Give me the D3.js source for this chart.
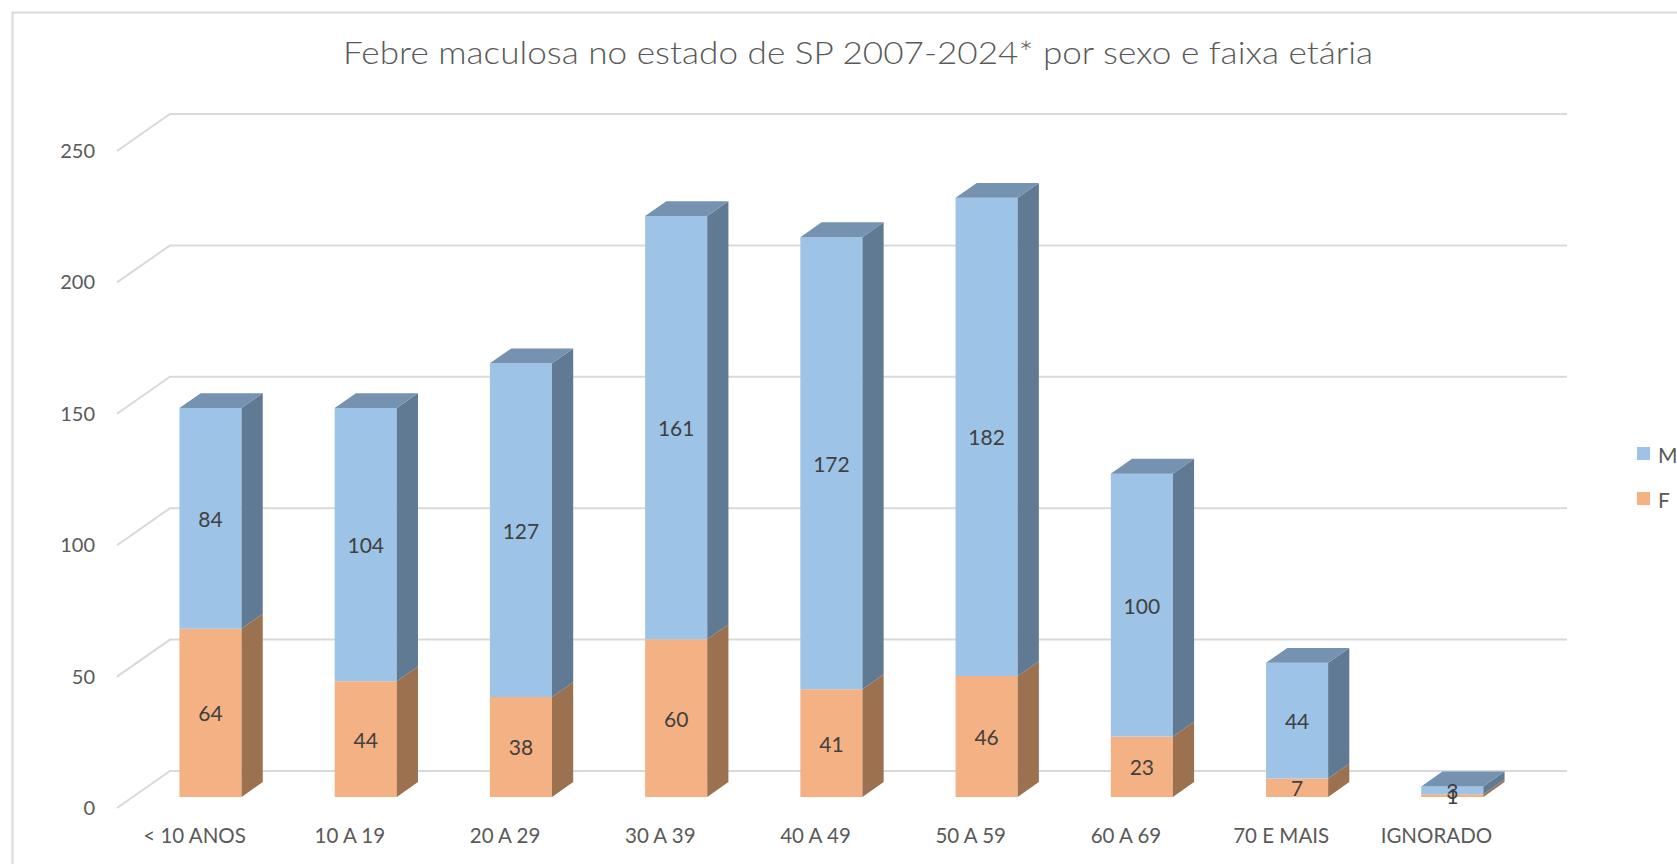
<!DOCTYPE html>
<html>
<head>
<meta charset="utf-8">
<script src="https://cdn.jsdelivr.net/npm/d3@7"></script>
<style>
  body { margin: 0; background: #fff; }
  svg { display: block; font-family: Lato, "Open Sans", sans-serif; }
</style>
</head>
<body>
<div id="chart"></div>
<script>
// Dados
var categorias = ['< 10 ANOS', '10 A 19', '20 A 29', '30 A 39', '40 A 49', '50 A 59', '60 A 69', '70 E MAIS', 'IGNORADO'];
var masculino = [84, 104, 127, 161, 172, 182, 100, 44, 3];
var feminino = [64, 44, 38, 60, 41, 46, 23, 7, 1];
var ticksY = [0, 50, 100, 150, 200, 250];
var series = [
  { name: 'F', values: feminino, front: '#F4B183', side: '#9C7150', top: '#C48E66' },
  { name: 'M', values: masculino, front: '#9DC3E6', side: '#617A94', top: '#7592B0' }
];

var width = 1677, height = 864;
var svg = d3.select('#chart').append('svg')
  .attr('width', width)
  .attr('height', height);

// moldura
svg.append('rect')
  .attr('x', 12.5).attr('y', 12.5)
  .attr('width', 1700).attr('height', 900)
  .attr('fill', 'none')
  .attr('stroke', '#D9D9D9')
  .attr('stroke-width', 2);

// titulo
svg.append('text')
  .attr('x', 858).attr('y', 64)
  .attr('text-anchor', 'middle')
  .attr('textLength', 1030)
  .attr('lengthAdjust', 'spacingAndGlyphs')
  .style('font-size', '32px')
  .style('font-weight', 300)
  .style('fill', '#595959')
  .text('Febre maculosa no estado de SP 2007-2024* por sexo e faixa etária');

// escalas (plano frontal) + profundidade obliqua
var x = d3.scaleBand().domain(categorias).range([117, 1514]).paddingInner(0.6).paddingOuter(0.3);
var y = d3.scaleLinear().domain([0, 250]).range([808, 151]);
var depthX = 53, depthY = 37;
function pt(px, v, z) { return [px + z * depthX, y(v) - z * depthY]; }
function poly(points) { return 'M' + points.map(function (p) { return p.join(','); }).join('L') + 'Z'; }

// grade: diagonal na lateral + linha na parede do fundo
var grid = svg.append('g');
ticksY.forEach(function (t) {
  var a = pt(x.range()[0], t, 0), b = pt(x.range()[0], t, 1), c = pt(x.range()[1], t, 1);
  grid.append('path')
    .attr('d', 'M' + a + 'L' + b + 'L' + c)
    .attr('fill', 'none')
    .attr('stroke', '#D9D9D9')
    .attr('stroke-width', 2);
});

// eixo Y
var yAxis = svg.append('g')
  .attr('transform', 'translate(100,0)')
  .call(d3.axisLeft(y).tickValues(ticksY).tickSize(0).tickPadding(5));
yAxis.select('.domain').remove();
yAxis.selectAll('text').style('font-size', '20px').style('fill', '#595959').style('font-family', 'Lato, sans-serif');

// eixo X
var xAxis = svg.append('g')
  .attr('transform', 'translate(0,828)')
  .call(d3.axisBottom(x).tickSize(0).tickPadding(0));
xAxis.select('.domain').remove();
xAxis.selectAll('text').style('font-size', '20.5px').style('fill', '#595959').style('font-family', 'Lato, sans-serif');

// barras 3D empilhadas
var z0 = 0.3, z1 = 0.7;
var bars = svg.append('g');
categorias.forEach(function (cat, i) {
  var xl = x(cat), xr = x(cat) + x.bandwidth();
  var base = 0;
  series.forEach(function (s, si) {
    var v0 = base, v1 = base + s.values[i];
    base = v1;
    // face frontal
    bars.append('path')
      .attr('d', poly([pt(xl, v0, z0), pt(xr, v0, z0), pt(xr, v1, z0), pt(xl, v1, z0)]))
      .attr('fill', s.front);
    // lateral
    bars.append('path')
      .attr('d', poly([pt(xr, v0, z0), pt(xr, v0, z1), pt(xr, v1, z1), pt(xr, v1, z0)]))
      .attr('fill', s.side);
    if (si === series.length - 1) {
      bars.append('path')
        .attr('d', poly([pt(xl, v1, z0), pt(xr, v1, z0), pt(xr, v1, z1), pt(xl, v1, z1)]))
        .attr('fill', s.top);
    }
  });
});

// rotulos de dados
var labels = svg.append('g');
categorias.forEach(function (cat, i) {
  var cx = x(cat) + x.bandwidth() / 2;
  var base = 0;
  series.forEach(function (s) {
    var v = s.values[i];
    var p = pt(cx, base + v / 2, z0);
    base += v;
    labels.append('text')
      .attr('x', p[0]).attr('y', p[1])
      .attr('text-anchor', 'middle')
      .attr('dominant-baseline', 'central')
      .style('font-size', '21px')
      .style('fill', '#404040')
      .text(v);
  });
});

// legenda
var legend = svg.append('g').attr('transform', 'translate(1637,447)');
var legItems = legend.selectAll('g')
  .data(series.slice().reverse())
  .enter().append('g')
  .attr('transform', function (d, i) { return 'translate(0,' + (i * 45) + ')'; });
legItems.append('rect')
  .attr('width', 13).attr('height', 13)
  .attr('fill', function (d) { return d.front; });
legItems.append('text')
  .attr('x', 21).attr('y', 7)
  .attr('dominant-baseline', 'central')
  .style('font-size', '21px')
  .style('fill', '#595959')
  .text(function (d) { return d.name; });
</script>
</body>
</html>
